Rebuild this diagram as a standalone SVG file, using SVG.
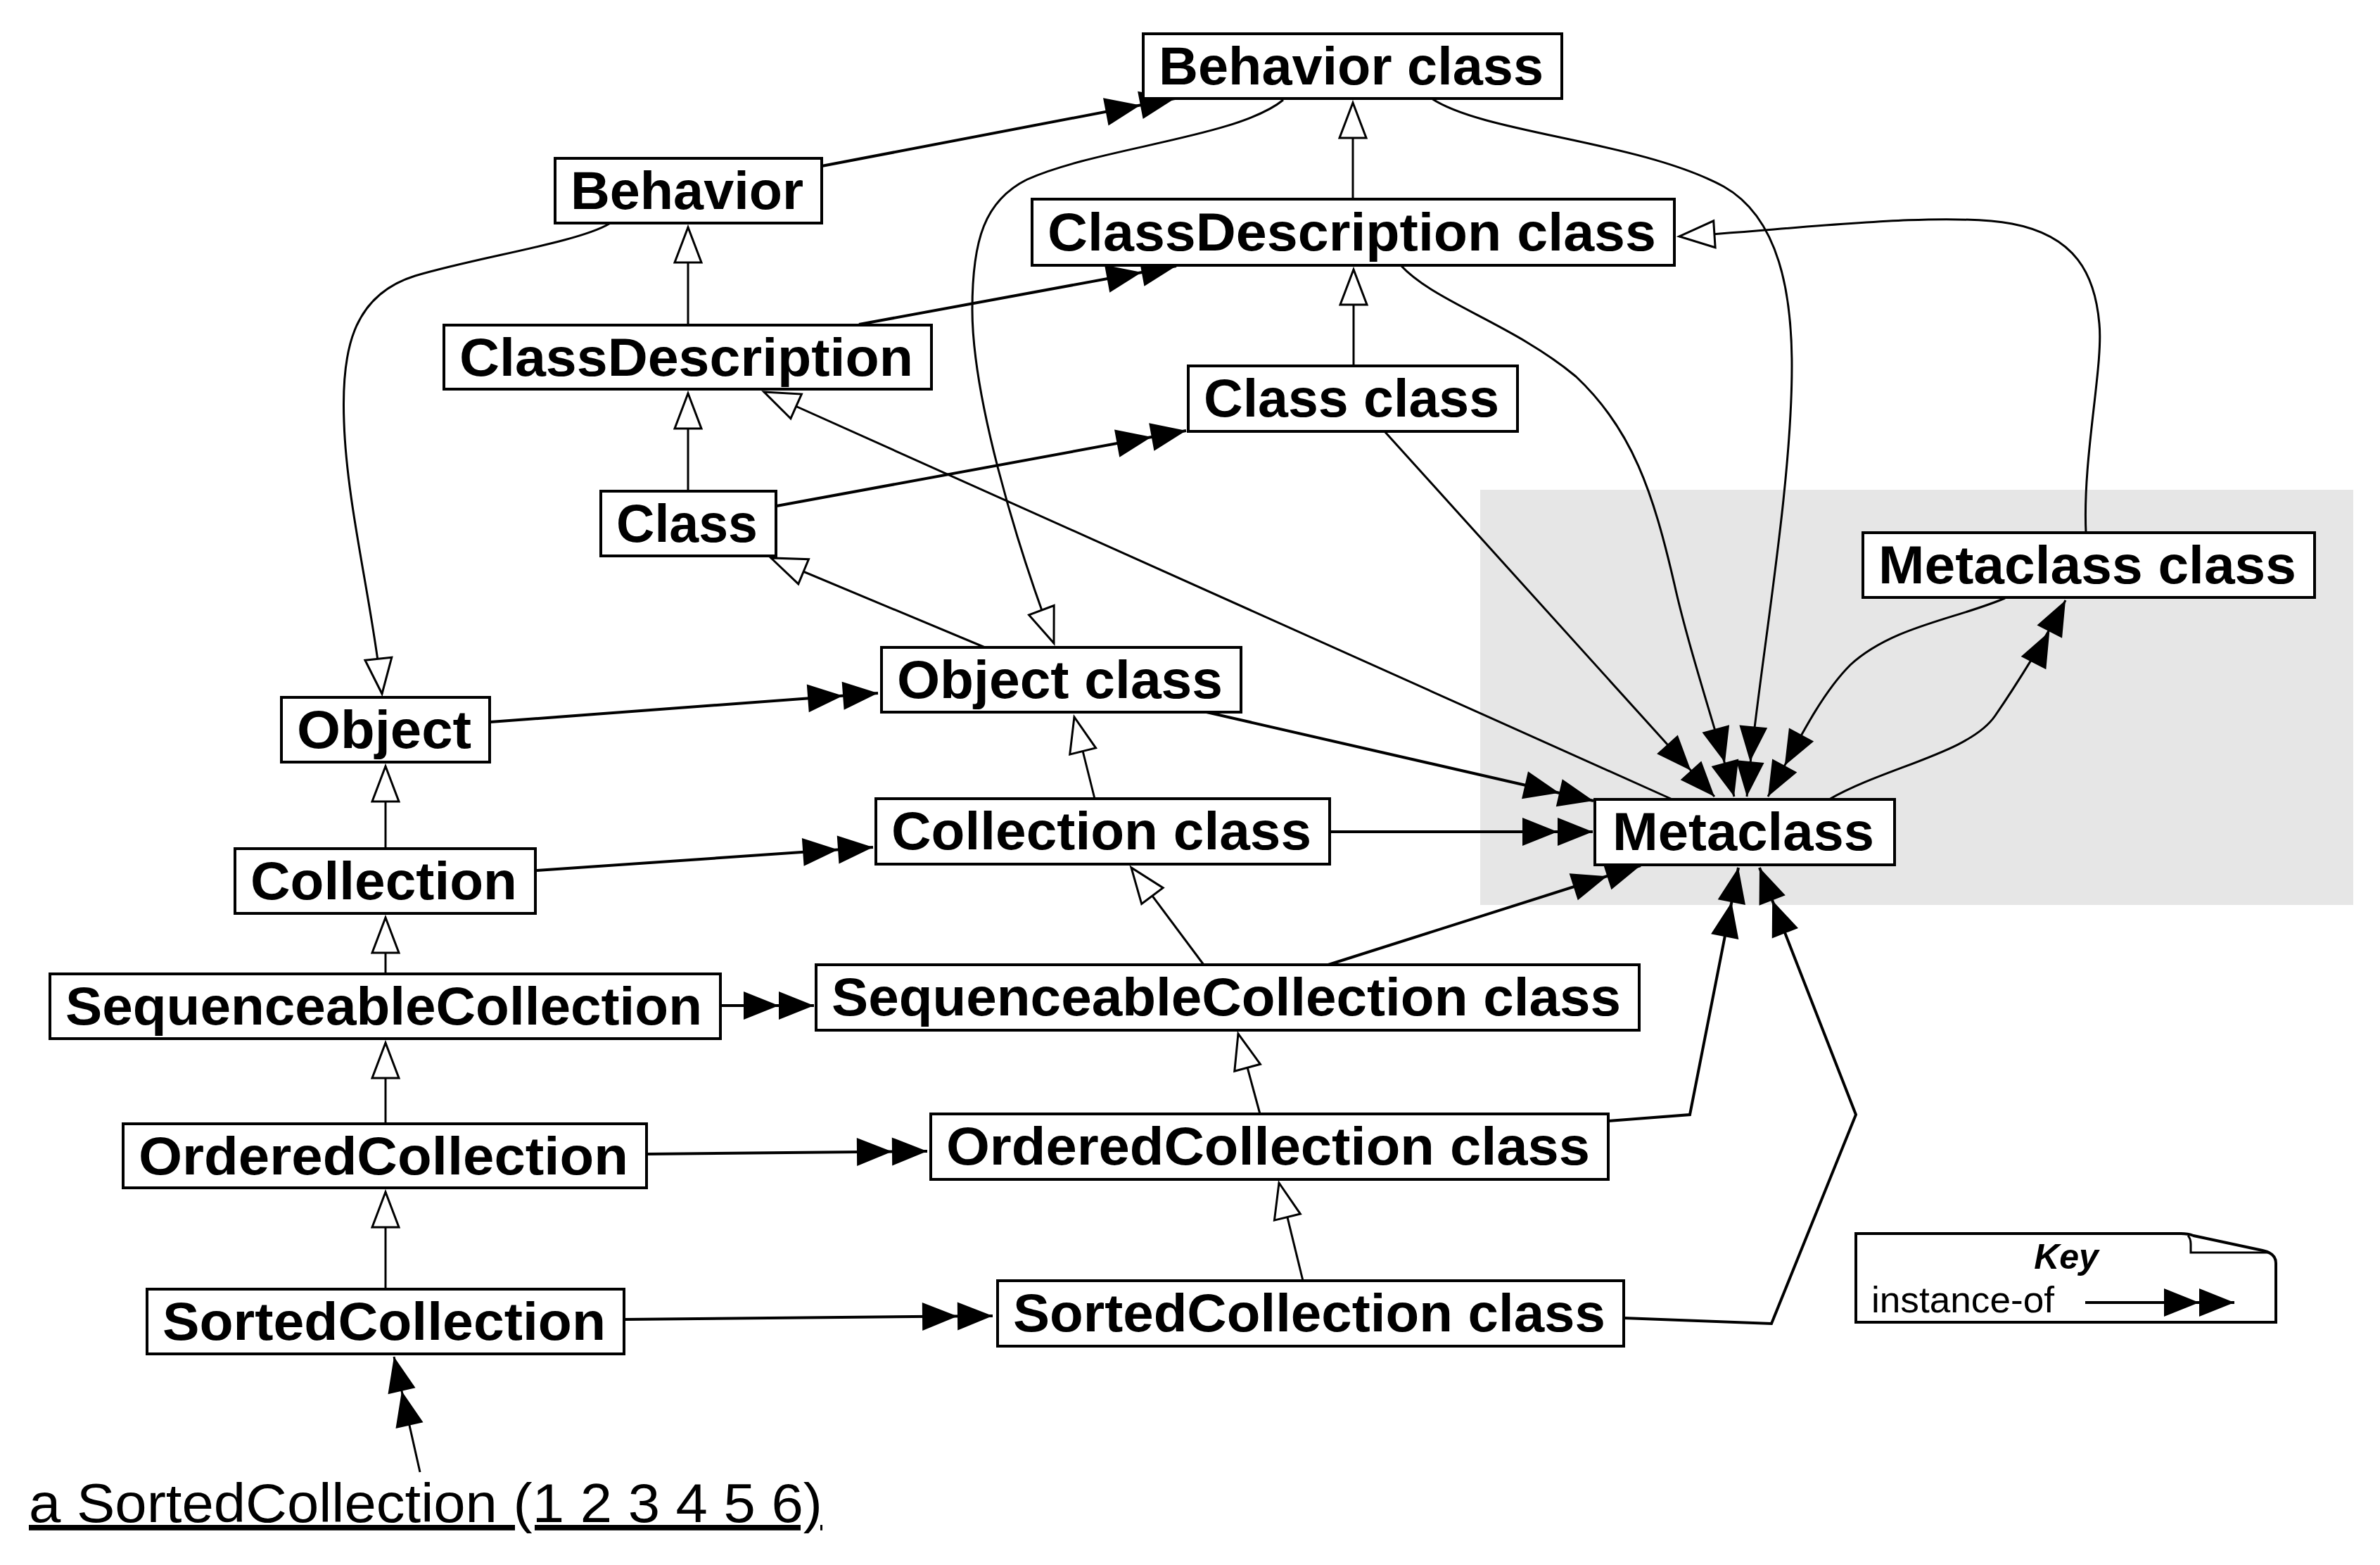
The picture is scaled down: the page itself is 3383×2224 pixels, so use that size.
<svg xmlns="http://www.w3.org/2000/svg" width="3383" height="2224" viewBox="0 0 3383 2224">
<style>
.box{fill:#fff;stroke:#000;stroke-width:4}
.n{font-family:"Liberation Sans",Arial,sans-serif;font-weight:bold;font-size:76px;text-anchor:middle;fill:#000}
.i{fill:none;stroke:#000;stroke-width:4;marker-end:url(#inst)}
.g{fill:none;stroke:#000;stroke-width:3;marker-end:url(#gen)}
.c{fill:none;stroke:#000;stroke-width:3;marker-end:url(#inst)}
</style>
<defs>
<marker id="inst" markerUnits="userSpaceOnUse" viewBox="0 -22 102 44" refX="100" refY="0" markerWidth="102" markerHeight="44" orient="auto" overflow="visible">
<path d="M0,-20 L50,0 L0,20 Z M50,-20 L100,0 L50,20 Z" fill="#000"/>
</marker>
<marker id="gen" markerUnits="userSpaceOnUse" viewBox="-4 -24 58 48" refX="50" refY="0" markerWidth="58" markerHeight="48" orient="auto" overflow="visible">
<path d="M0,-19 L50,0 L0,19 Z" fill="#fff" stroke="#000" stroke-width="3"/>
</marker>
</defs>
<rect width="3383" height="2224" fill="#fff"/>
<rect id="metaregion" x="2104" y="696" width="1241" height="590" fill="#e6e6e6"/>
<g id="connectors">
<!-- generalization -->
<path class="g" d="M1923,283 L1923,146"/>
<path class="g" d="M1924,520 L1924,383"/>
<path class="g" d="M978,462 L978,323"/>
<path class="g" d="M978,698 L978,559"/>
<path class="g" d="M1400,920 L1096,793"/>
<path class="g" d="M2377,1136 L1086,557"/>
<path class="g" d="M1824,142 C1760,195 1560,210 1460,255 C1400,285 1382,340 1382,440 C1382,560 1440,760 1498,914"/>
<path class="g" d="M866,318 C820,345 680,365 590,392 C500,420 485,500 489,600 C493,720 530,860 543,986"/>
<path class="g" d="M548,1206 L548,1089"/>
<path class="g" d="M548,1384 L548,1304"/>
<path class="g" d="M548,1597 L548,1482"/>
<path class="g" d="M548,1832 L548,1694"/>
<path class="g" d="M1556,1135 L1527,1019"/>
<path class="g" d="M1711,1371 L1608,1233"/>
<path class="g" d="M1791,1583 L1760,1469"/>
<path class="g" d="M1852,1820 L1818,1681"/>
<path class="g" d="M2965,757 C2960,650 2990,520 2984,460 C2978,390 2950,335 2860,318 C2760,300 2560,325 2387,336"/>
<!-- instance-of -->
<path class="i" d="M1168,236 L1670,140"/>
<path class="i" d="M1221,461 L1672,378"/>
<path class="i" d="M1104,719 L1686,612"/>
<path class="i" d="M697,1026 L1248,985"/>
<path class="i" d="M763,1237 L1241,1204"/>
<path class="i" d="M1025,1429 L1157,1429"/>
<path class="i" d="M920,1640 L1318,1636"/>
<path class="i" d="M888,1875 L1411,1870"/>
<path class="c" d="M597,2092 L560,1928"/>
<path class="i" d="M1715,1012 L2265,1138"/>
<path class="i" d="M1891,1182 L2264,1182"/>
<path class="i" d="M1888,1371 L2332,1230"/>
<path class="i" d="M2286,1593 L2402,1584 L2471,1233"/>
<path class="i" d="M2308,1873 L2518,1881 L2638,1584 L2501,1233"/>
<path class="c" d="M1968,613 L2437,1132"/>
<path class="c" d="M1991,377 C2040,430 2150,460 2240,535 C2320,610 2350,700 2380,830 C2400,920 2440,1040 2465,1132"/>
<path class="c" d="M2035,140 C2110,190 2330,200 2450,265 C2530,310 2547,420 2547,520 C2547,700 2500,950 2483,1132"/>
<path class="c" d="M2850,850 C2780,880 2690,890 2630,945 C2590,985 2560,1045 2513,1132"/>
<path class="c" d="M2600,1136 C2680,1090 2800,1070 2836,1017 C2865,975 2912,900 2936,853"/>
</g>
<g id="n-behavior-class"><rect class="box" x="1625" y="48" width="595" height="92"/><text class="n" x="1920.5" y="120" textLength="547" lengthAdjust="spacingAndGlyphs">Behavior class</text></g>
<g id="n-behavior"><rect class="box" x="789" y="225" width="379" height="92"/><text class="n" x="976.5" y="297" textLength="331" lengthAdjust="spacingAndGlyphs">Behavior</text></g>
<g id="n-classdescription-class"><rect class="box" x="1467" y="283" width="913" height="94"/><text class="n" x="1921.5" y="356" textLength="865" lengthAdjust="spacingAndGlyphs">ClassDescription class</text></g>
<g id="n-classdescription"><rect class="box" x="631" y="462" width="693" height="91"/><text class="n" x="975.5" y="534" textLength="645" lengthAdjust="spacingAndGlyphs">ClassDescription</text></g>
<g id="n-class-class"><rect class="box" x="1689" y="520" width="468" height="93"/><text class="n" x="1921" y="592" textLength="420" lengthAdjust="spacingAndGlyphs">Class class</text></g>
<g id="n-class"><rect class="box" x="854" y="698" width="249" height="92"/><text class="n" x="976.5" y="770" textLength="201" lengthAdjust="spacingAndGlyphs">Class</text></g>
<g id="n-metaclass-class"><rect class="box" x="2648" y="757" width="642" height="92"/><text class="n" x="2967" y="829" textLength="594" lengthAdjust="spacingAndGlyphs">Metaclass class</text></g>
<g id="n-object-class"><rect class="box" x="1253" y="920" width="511" height="92"/><text class="n" x="1506.5" y="992" textLength="463" lengthAdjust="spacingAndGlyphs">Object class</text></g>
<g id="n-object"><rect class="box" x="400" y="991" width="296" height="92"/><text class="n" x="546" y="1063" textLength="248" lengthAdjust="spacingAndGlyphs">Object</text></g>
<g id="n-collection-class"><rect class="box" x="1245" y="1135" width="645" height="93"/><text class="n" x="1565.5" y="1207" textLength="597" lengthAdjust="spacingAndGlyphs">Collection class</text></g>
<g id="n-metaclass"><rect class="box" x="2267" y="1136" width="426" height="93"/><text class="n" x="2478" y="1208" textLength="372" lengthAdjust="spacingAndGlyphs">Metaclass</text></g>
<g id="n-collection"><rect class="box" x="334" y="1206" width="427" height="92"/><text class="n" x="545.5" y="1278" textLength="379" lengthAdjust="spacingAndGlyphs">Collection</text></g>
<g id="n-seqcoll-class"><rect class="box" x="1160" y="1371" width="1170" height="93"/><text class="n" x="1743" y="1443" textLength="1122" lengthAdjust="spacingAndGlyphs">SequenceableCollection class</text></g>
<g id="n-seqcoll"><rect class="box" x="71" y="1384" width="953" height="92"/><text class="n" x="545.5" y="1456" textLength="905" lengthAdjust="spacingAndGlyphs">SequenceableCollection</text></g>
<g id="n-ordcoll-class"><rect class="box" x="1323" y="1583" width="963" height="93"/><text class="n" x="1802.5" y="1655" textLength="915" lengthAdjust="spacingAndGlyphs">OrderedCollection class</text></g>
<g id="n-ordcoll"><rect class="box" x="175" y="1597" width="744" height="91"/><text class="n" x="545" y="1669" textLength="696" lengthAdjust="spacingAndGlyphs">OrderedCollection</text></g>
<g id="n-sortcoll-class"><rect class="box" x="1418" y="1820" width="890" height="93"/><text class="n" x="1861" y="1892" textLength="842" lengthAdjust="spacingAndGlyphs">SortedCollection class</text></g>
<g id="n-sortcoll"><rect class="box" x="209" y="1832" width="678" height="92"/><text class="n" x="546" y="1904" textLength="630" lengthAdjust="spacingAndGlyphs">SortedCollection</text></g>
<g id="n-instance"><text x="41" y="2163" font-family="Liberation Sans, Arial, sans-serif" font-size="78" text-decoration="underline" textLength="1128" lengthAdjust="spacingAndGlyphs">a SortedCollection (1 2 3 4 5 6)</text></g>
<g id="key">
<path d="M2638,1753 L3100,1753 Q3110,1753 3118,1756 L3216,1777 Q3235,1781 3235,1795 L3235,1879 L2638,1879 Z" fill="#fff" stroke="#000" stroke-width="4"/>
<path d="M3110,1756 Q3114,1760 3114,1768 L3114,1780 L3226,1780" fill="none" stroke="#000" stroke-width="3"/>
<text x="2937" y="1803" font-family="Liberation Sans, Arial, sans-serif" font-size="50" font-weight="bold" font-style="italic" text-anchor="middle">Key</text>
<text x="2660" y="1865" font-family="Liberation Sans, Arial, sans-serif" font-size="52" textLength="260" lengthAdjust="spacingAndGlyphs">instance-of</text>
<path class="i" d="M2964,1851 L3176,1851"/>
</g>
</svg>
